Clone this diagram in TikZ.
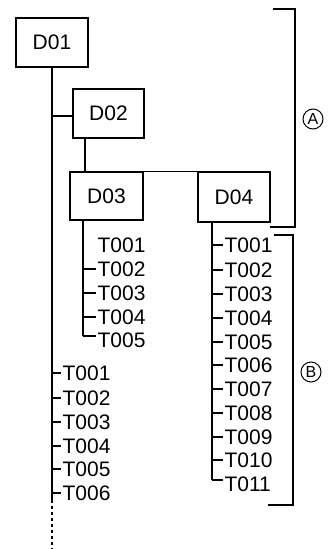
\documentclass[tikz,border=0pt]{standalone}
\usepackage{fontspec}
\setmainfont{Liberation Sans}
\begin{document}
\begin{tikzpicture}[x=1pt,y=-1pt,line width=1.2pt,
  box/.style={draw,line width=1.3pt,minimum width=72pt,minimum height=49pt,inner sep=0pt,font=\fontsize{21}{21}\selectfont},
  lbl/.style={anchor=west,inner sep=1pt,font=\fontsize{21}{21}\selectfont},
  circ/.style={draw,circle,line width=1pt,minimum size=20pt,inner sep=0pt,font=\fontsize{16}{16}\selectfont}]
\useasboundingbox (0,0) rectangle (327,549);
% boxes
\node[box] (D01) at (52,42.5) {D01};
\node[box,minimum width=71pt] (D02) at (108.5,113.5) {D02};
\node[box,minimum width=73pt,minimum height=48pt] (D03) at (106.5,196) {D03};
\node[box,minimum height=50pt] (D04) at (234,197) {D04};
% main line of D01
\coordinate (mJ) at (52,116);
\coordinate (mS) at (52,500);
\coordinate (mE) at (52,549);
\draw (D01.south) -- (mS);
\draw[dash pattern=on 3pt off 3pt] (mS) -- (mE);
\draw (mJ) -- (D02.west |- mJ);
% D02 to D03
\coordinate (c2) at (85,138);
\coordinate (c3) at (85,172);
\draw (c2) -- (c3);
% D03 to D04
\draw (D03.north east) -- (D04.north west);
% D03 list
\coordinate (a0) at (83,220);
\foreach \i/\y in {1/245,2/269,3/293,4/317,5/340}{
  \node[lbl] (a\i) at (96,\y) {T00\i};
}
\coordinate (aE) at (83,336);
\draw (a0) -- (aE);
\foreach \i in {2,3,4}{ \draw (a0 |- a\i) -- (a\i.west); }
\draw (aE) -- (a5.west |- aE);
% D01 list
\foreach \i/\y in {1/373,2/398,3/422,4/446,5/469,6/493}{
  \node[lbl] (b\i) at (61,\y) {T00\i};
  \draw (mS |- b\i) -- (b\i.west);
}
% D04 list
\coordinate (d0) at (212,222);
\foreach \i/\t/\y in {1/T001/245,2/T002/270,3/T003/294,4/T004/318,5/T005/342,6/T006/365,7/T007/389,8/T008/413,9/T009/437,10/T010/460,11/T011/484}{
  \node[lbl] (d\i) at (223,\y) {\t};
}
\coordinate (dE) at (212,480);
\draw (d0) -- (dE);
\foreach \i in {1,...,10}{ \draw (d0 |- d\i) -- (d\i.west); }
\draw (dE) -- (d11.west |- dE);
% bracket A
\coordinate (A1) at (273,9);
\coordinate (A2) at (295,9);
\coordinate (A3) at (295,227);
\coordinate (A4) at (270,227);
\draw[line width=1.1pt] (A1) -- (A2) -- (A3) -- (A4);
\node[circ] (cA) at (313,119) {A};
% bracket B
\coordinate (B1) at (274,235);
\coordinate (B2) at (293,235);
\coordinate (B3) at (293,505);
\coordinate (B4) at (268,505);
\draw[line width=1.1pt] (B1) -- (B2) -- (B3) -- (B4);
\node[circ] (cB) at (311,372) {B};
\end{tikzpicture}
\end{document}
